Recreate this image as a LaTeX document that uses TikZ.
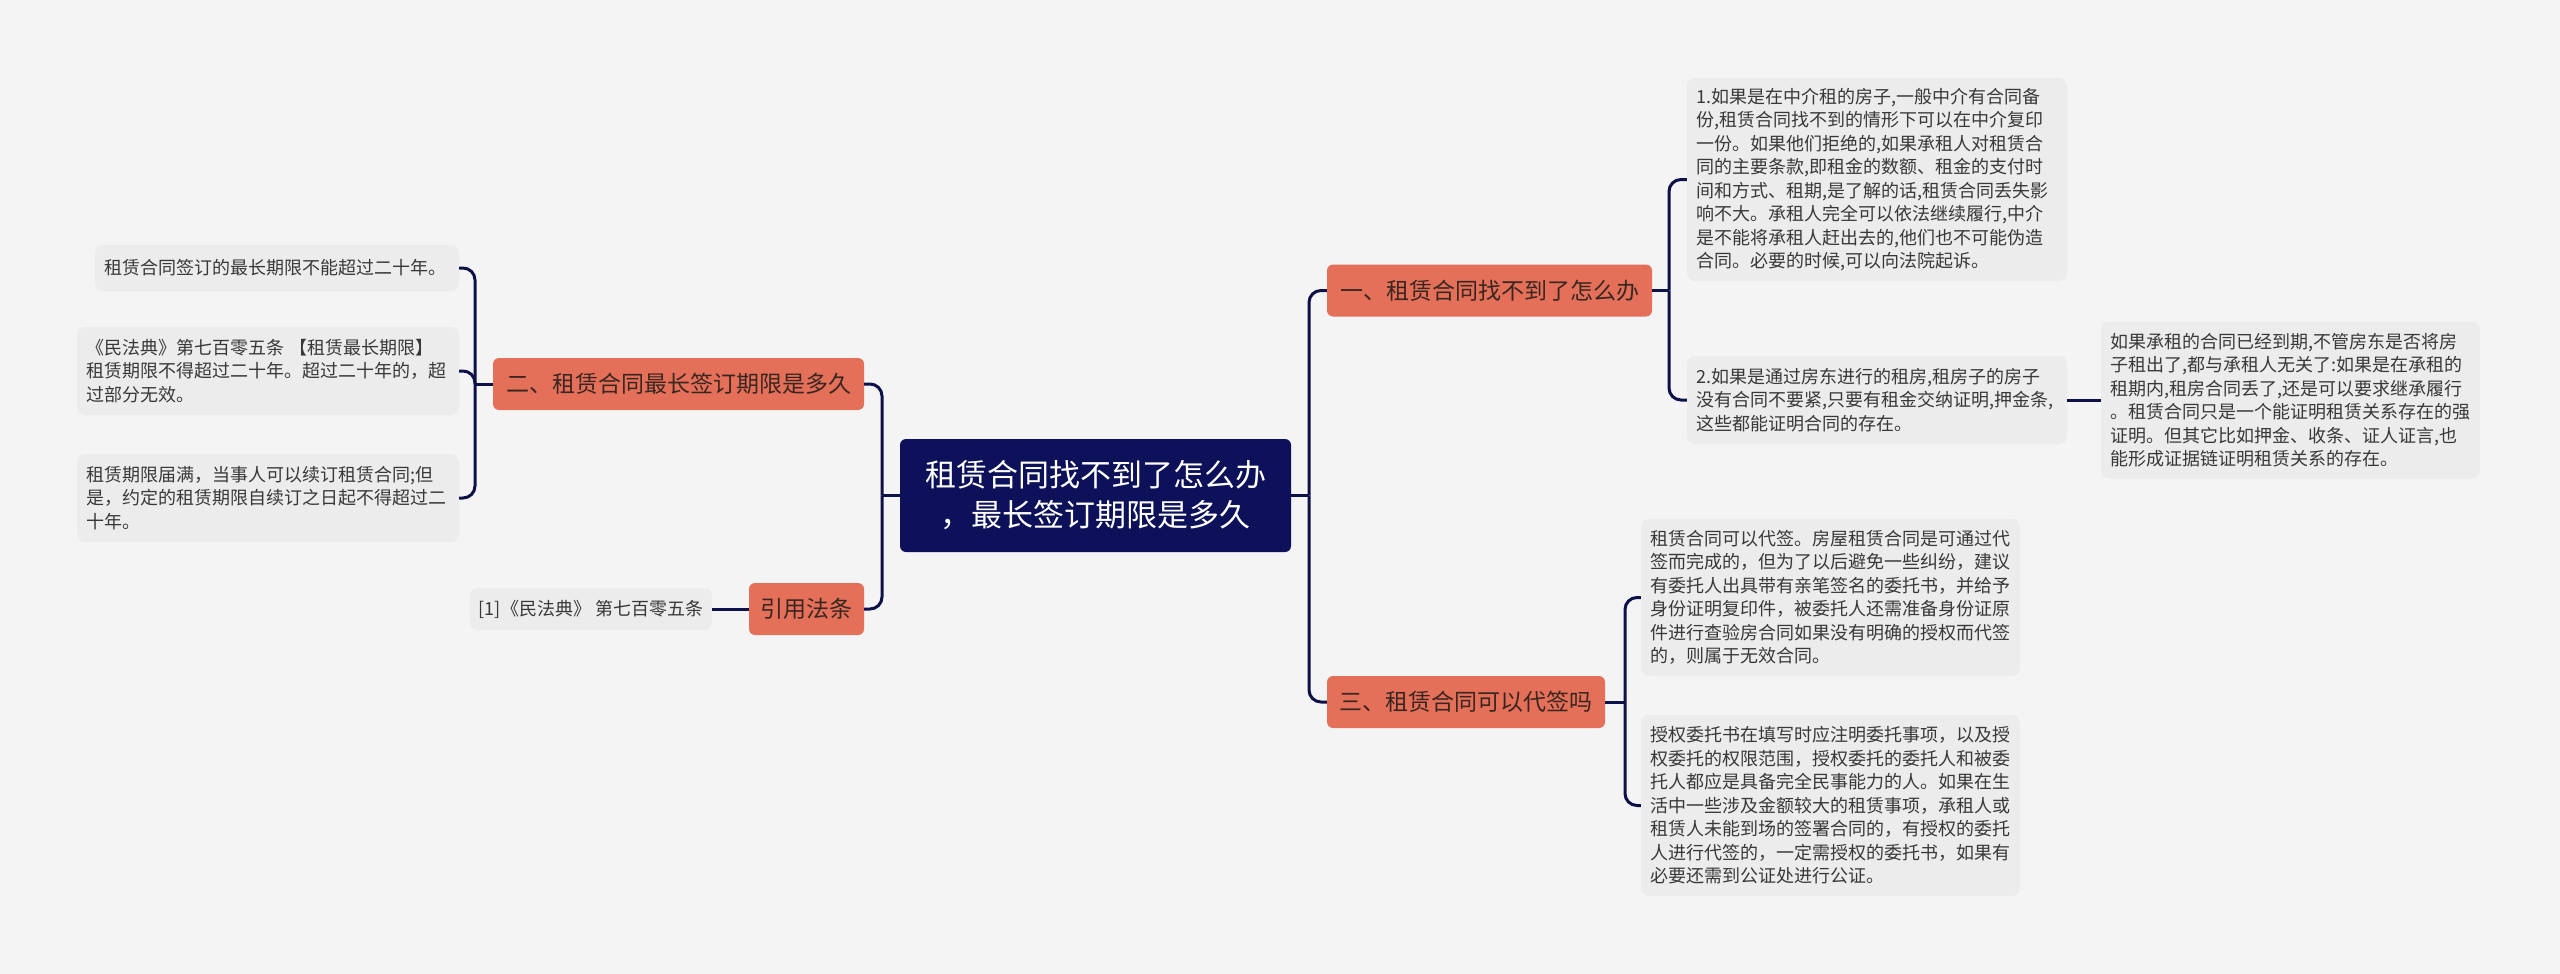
\documentclass[tikz,border=0pt]{standalone}
\usepackage{fontspec}
\setmainfont{Noto Sans CJK SC}
\definecolor{bgc}{HTML}{F4F4F4}
\definecolor{leafbg}{HTML}{ECECEC}
\definecolor{leaftext}{HTML}{383838}
\definecolor{salmon}{HTML}{E4705A}
\definecolor{branchtext}{HTML}{3A2620}
\definecolor{navy}{HTML}{0C115A}
\definecolor{linec}{HTML}{0E1148}
\begin{document}
\begin{tikzpicture}[x=1pt,y=-1pt,
  leaf/.style={fill=leafbg, rounded corners=8pt, inner xsep=9pt, inner ysep=0pt,
    align=left, font=\fontsize{18}{23.5}\selectfont, text=leaftext, anchor=center},
  branch/.style={fill=salmon, rounded corners=6pt, inner xsep=0pt, inner ysep=0pt,
    font=\fontsize{23}{28}\selectfont, text=branchtext, anchor=center, minimum height=52pt},
  central/.style={fill=navy, rounded corners=6pt, inner sep=0pt, align=center,
    font=\fontsize{31}{40}\selectfont, text=white, anchor=center,
    minimum width=391pt, minimum height=113pt},
  conn/.style={draw=linec, line width=3pt, rounded corners=12pt}
]
\fill[bgc] (0,0) rectangle (2560,974);
\useasboundingbox (0,0) rectangle (2560,974);

% central
\node[central] (c) at (1095.5,495.5) {租赁合同找不到了怎么办\\，最长签订期限是多久};

% branches
\node[branch, minimum width=325pt] (b1) at (1489.5,290.5) {一、租赁合同找不到了怎么办};
\node[branch, minimum width=278pt] (b3) at (1466,702) {三、租赁合同可以代签吗};
\node[branch, minimum width=371pt] (b2) at (678.5,384) {二、租赁合同最长签订期限是多久};
\node[branch, minimum width=115pt] (b4) at (806.5,609) {引用法条};

% right leaves
\node[leaf, text width=362pt, minimum height=203pt] (l1) at (1877,179.5) {1.如果是在中介租的房子,一般中介有合同备\\
份,租赁合同找不到的情形下可以在中介复印\\
一份。如果他们拒绝的,如果承租人对租赁合\\
同的主要条款,即租金的数额、租金的支付时\\
间和方式、租期,是了解的话,租赁合同丢失影\\
响不大。承租人完全可以依法继续履行,中介\\
是不能将承租人赶出去的,他们也不可能伪造\\
合同。必要的时候,可以向法院起诉。};
\node[leaf, text width=362pt, minimum height=88pt] (l2) at (1877,400) {2.如果是通过房东进行的租房,租房子的房子\\
没有合同不要紧,只要有租金交纳证明,押金条,\\
这些都能证明合同的存在。};
\node[leaf, text width=361pt, minimum height=157pt] (l3) at (2290.5,400) {如果承租的合同已经到期,不管房东是否将房\\
子租出了,都与承租人无关了:如果是在承租的\\
租期内,租房合同丢了,还是可以要求继承履行\\
。租赁合同只是一个能证明租赁关系存在的强\\
证明。但其它比如押金、收条、证人证言,也\\
能形成证据链证明租赁关系的存在。};
\node[leaf, text width=361pt, minimum height=157pt] (l4) at (1830.5,597.5) {租赁合同可以代签。房屋租赁合同是可通过代\\
签而完成的，但为了以后避免一些纠纷，建议\\
有委托人出具带有亲笔签名的委托书，并给予\\
身份证明复印件，被委托人还需准备身份证原\\
件进行查验房合同如果没有明确的授权而代签\\
的，则属于无效合同。};
\node[leaf, text width=361pt, minimum height=181pt] (l5) at (1830.5,805.5) {授权委托书在填写时应注明委托事项，以及授\\
权委托的权限范围，授权委托的委托人和被委\\
托人都应是具备完全民事能力的人。如果在生\\
活中一些涉及金额较大的租赁事项，承租人或\\
租赁人未能到场的签署合同的，有授权的委托\\
人进行代签的，一定需授权的委托书，如果有\\
必要还需到公证处进行公证。};

% left leaves
\node[leaf, text width=346pt, minimum height=46pt] (a1) at (277,268) {租赁合同签订的最长期限不能超过二十年。};
\node[leaf, text width=364pt, minimum height=88pt] (a2) at (268,371) {《民法典》第七百零五条 【租赁最长期限】\\
租赁期限不得超过二十年。超过二十年的，超\\
过部分无效。};
\node[leaf, text width=364pt, minimum height=88pt] (a3) at (268,498) {租赁期限届满，当事人可以续订租赁合同;但\\
是，约定的租赁期限自续订之日起不得超过二\\
十年。};
\node[leaf, minimum width=242pt, minimum height=42pt] (a4) at (591,609) {[1]《民法典》 第七百零五条};

% junction coordinates
\coordinate (jR) at (1309,495.5);
\coordinate (jL) at (882,495.5);
\coordinate (j1) at (1669,290.5);
\coordinate (j3) at (1625,702);
\coordinate (j2) at (475,384);

% connectors
\draw[conn] (c.east) -- (jR);
\draw[conn] (jR) |- (b1.west);
\draw[conn] (jR) |- (b3.west);
\draw[conn] (c.west) -- (jL);
\draw[conn] (jL) |- (b2.east);
\draw[conn] (jL) |- (b4.east);
\draw[conn] (b1.east) -- (j1);
\draw[conn] (j1) |- (l1.west);
\draw[conn] (j1) |- (l2.west);
\draw[conn] (l2.east) -- (l3.west);
\draw[conn] (b3.east) -- (j3);
\draw[conn] (j3) |- (l4.west);
\draw[conn] (j3) |- (l5.west);
\draw[conn] (b2.west) -- (j2);
\draw[conn] (j2) |- (a1.east);
\draw[conn] (j2) |- (a2.east);
\draw[conn] (j2) |- (a3.east);
\draw[conn] (b4.west) -- (a4.east);
\end{tikzpicture}
\end{document}
